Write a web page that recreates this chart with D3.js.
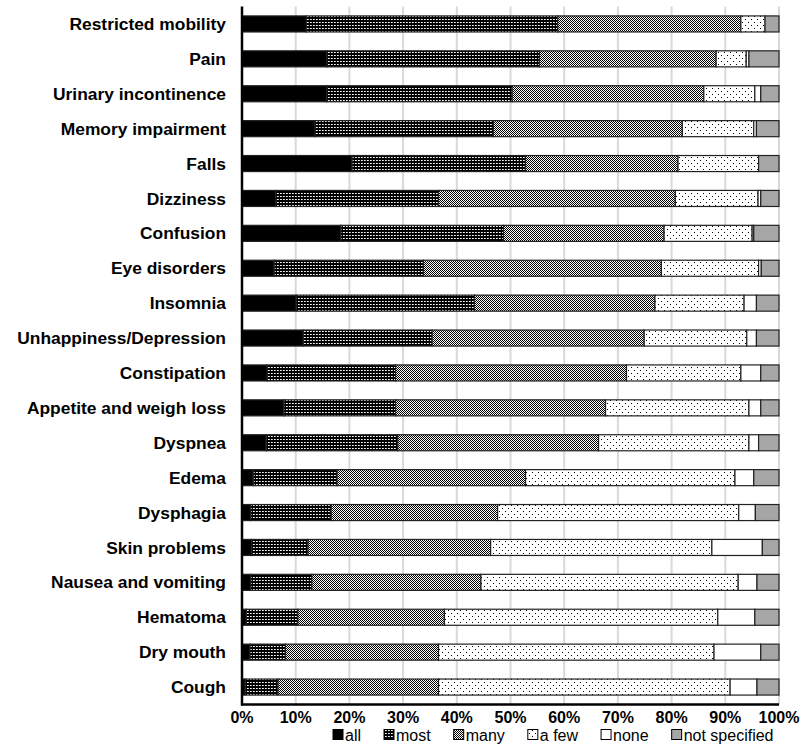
<!DOCTYPE html>
<html>
<head>
<meta charset="utf-8">
<script src="https://cdn.jsdelivr.net/npm/d3@7"></script>
<style>
	body { margin: 0; background: #fff; }
	svg { display: block; font-family: "Liberation Sans", Arial, sans-serif; }
</style>
</head>
<body>
<svg width="802" height="744"></svg>
<script>
"use strict";

var symptoms = ["Restricted mobility", "Pain", "Urinary incontinence", "Memory impairment", "Falls",
	"Dizziness", "Confusion", "Eye disorders", "Insomnia", "Unhappiness/Depression", "Constipation",
	"Appetite and weigh loss", "Dyspnea", "Edema", "Dysphagia", "Skin problems", "Nausea and vomiting",
	"Hematoma", "Dry mouth", "Cough"];

var levels = ["all", "most", "many", "a few", "none", "not specified"];

// percent per symptom, same order as symptoms
var all          = [12.0, 15.8, 15.8, 13.6, 20.5, 6.3, 18.4, 6.0, 10.1, 11.4, 4.7, 7.8, 4.5, 2.1, 1.6, 1.8, 1.6, 0.8, 1.5, 0.6];
var most         = [46.8, 39.6, 34.5, 33.2, 32.3, 30.3, 30.3, 27.8, 33.2, 24.0, 23.9, 20.8, 24.5, 15.6, 15.0, 10.5, 11.4, 9.6, 6.6, 6.1];
var many         = [34.1, 32.9, 35.7, 35.2, 28.4, 44.1, 29.9, 44.3, 33.6, 39.5, 43.0, 39.1, 37.4, 35.1, 31.0, 34.0, 31.5, 27.3, 28.5, 29.9];
var aFew         = [4.5, 5.6, 9.5, 13.3, 15.0, 15.4, 16.4, 18.1, 16.6, 19.1, 21.3, 26.7, 28.0, 39.0, 44.9, 41.2, 47.9, 50.9, 51.3, 54.3];
var none         = [0, 0.5, 1.1, 0.5, 0, 0.5, 0.3, 0.5, 2.3, 1.8, 3.7, 2.2, 1.8, 3.5, 3.1, 9.4, 3.5, 6.9, 8.7, 5.0];
var notSpecified = [2.6, 5.6, 3.4, 4.2, 3.8, 3.4, 4.7, 3.3, 4.2, 4.2, 3.4, 3.4, 3.8, 4.7, 4.4, 3.1, 4.1, 4.5, 3.4, 4.1];

var ticks = [0, 10, 20, 30, 40, 50, 60, 70, 80, 90, 100];

var svg = d3.select("svg");
var margin = {left: 242, right: 23, top: 6.5, bottom: 39.5};
var W = 802, H = 744;
var fontSize = 17.4, smallSize = 16;

var x = d3.scaleLinear().domain([0, 100]).range([margin.left, W - margin.right]);
var y = d3.scaleBand().domain(symptoms).range([margin.top, H - margin.bottom]).paddingInner(0.54).paddingOuter(0.27);

// patterns
var defs = svg.append("defs");

var pMost = defs.append("pattern").attr("id", "p-most").attr("patternUnits", "userSpaceOnUse")
	.attr("width", 3).attr("height", 3);
pMost.append("rect").attr("width", 3).attr("height", 3).attr("fill", "#000");
pMost.append("rect").attr("x", 1).attr("y", 1).attr("width", 1).attr("height", 1).attr("fill", "#fff");
pMost.append("rect").attr("x", 2).attr("y", 1).attr("width", 1).attr("height", 1).attr("fill", "#bbb");

var pMany = defs.append("pattern").attr("id", "p-many").attr("patternUnits", "userSpaceOnUse")
	.attr("width", 2).attr("height", 2);
pMany.append("rect").attr("width", 2).attr("height", 2).attr("fill", "#fff");
pMany.append("rect").attr("width", 1).attr("height", 1).attr("fill", "#000");
pMany.append("rect").attr("x", 1).attr("y", 1).attr("width", 1).attr("height", 1).attr("fill", "#000");

var pFew = defs.append("pattern").attr("id", "p-few").attr("patternUnits", "userSpaceOnUse")
	.attr("width", 6).attr("height", 6);
pFew.append("rect").attr("width", 6).attr("height", 6).attr("fill", "#fff");
pFew.append("rect").attr("x", 1).attr("y", 1).attr("width", 1).attr("height", 1).attr("fill", "#000");
pFew.append("rect").attr("x", 4).attr("y", 4).attr("width", 1).attr("height", 1).attr("fill", "#000");

var fills = d3.scaleOrdinal().domain(levels)
	.range(["#000", "url(#p-most)", "url(#p-many)", "url(#p-few)", "#fff", "#a6a6a6"]);

// gridlines
svg.append("g").selectAll("line").data(ticks.slice(1)).enter().append("line")
	.attr("x1", function(d) {return x(d)}).attr("x2", function(d) {return x(d)})
	.attr("y1", margin.top).attr("y2", H - margin.bottom)
	.attr("stroke", "#d9d9d9").attr("stroke-width", 2);

// stacked data
var rows = symptoms.map(function(s, i) {
	return {name: s, "all": all[i], "most": most[i], "many": many[i], "a few": aFew[i],
		"none": none[i], "not specified": notSpecified[i]};
});
var stack = d3.stack().keys(levels)(rows);

svg.append("g").selectAll("g").data(stack).enter().append("g")
	.attr("fill", function(d) {return fills(d.key)})
	.selectAll("rect").data(function(d) {return d}).enter().append("rect")
	.attr("x", function(d) {return x(d[0])})
	.attr("width", function(d) {return Math.max(0, x(d[1]) - x(d[0]))})
	.attr("y", function(d) {return y(d.data.name)})
	.attr("height", y.bandwidth())
	.attr("stroke", "#222").attr("stroke-width", 1.2);

// axes
svg.append("line").attr("x1", x(0)).attr("x2", x(0)).attr("y1", margin.top).attr("y2", H - margin.bottom + 1)
	.attr("stroke", "#000").attr("stroke-width", 2.5);
svg.append("line").attr("x1", x(0) - 1).attr("x2", x(100)).attr("y1", H - margin.bottom).attr("y2", H - margin.bottom)
	.attr("stroke", "#000").attr("stroke-width", 2.5);

svg.append("g").selectAll("text").data(symptoms).enter().append("text")
	.attr("x", 226).attr("y", function(d) {return y(d) + y.bandwidth() / 2})
	.attr("dy", "0.35em").attr("text-anchor", "end")
	.attr("font-size", fontSize).attr("font-weight", "bold").attr("fill", "#000")
	.text(function(d) {return d});

svg.append("g").selectAll("text").data(ticks).enter().append("text")
	.attr("x", function(d) {return x(d)}).attr("y", H - margin.bottom + 18)
	.attr("text-anchor", "middle").attr("font-size", smallSize).attr("font-weight", "bold")
	.text(function(d) {return d + "%"});

// legend
var legend = svg.append("g");
var lx = 333, ly = 740.5;
levels.forEach(function(k) {
	legend.append("rect").attr("x", lx).attr("y", ly - 11).attr("width", 10).attr("height", 10)
		.attr("fill", fills(k)).attr("stroke", "#000").attr("stroke-width", 1);
	var t = legend.append("text").attr("x", lx + 12).attr("y", ly).attr("font-size", smallSize).text(k);
	lx += 12 + t.node().getComputedTextLength() + 23;
});
</script>
</body>
</html>
